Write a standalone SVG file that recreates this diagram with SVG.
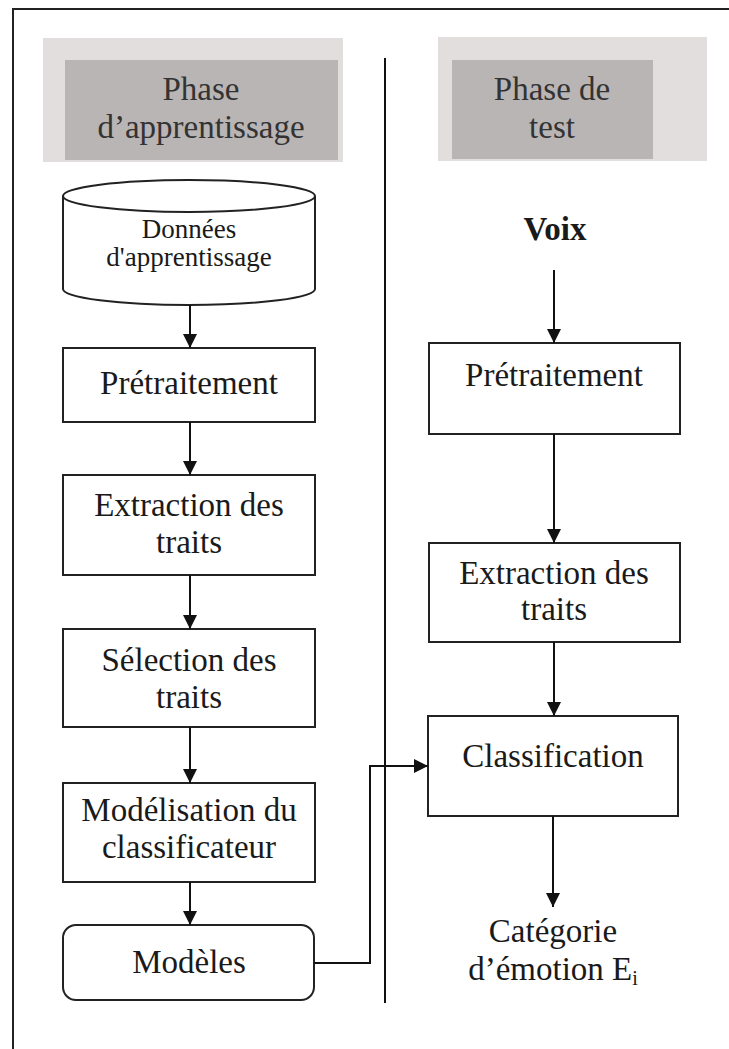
<svg xmlns="http://www.w3.org/2000/svg" width="729" height="1049" viewBox="0 0 729 1049">
  <defs>
    <marker id="arrow" markerUnits="userSpaceOnUse" markerWidth="14" markerHeight="14" refX="14" refY="7" orient="auto">
      <path d="M0,0 L14,7 L0,14 Z" fill="#111"/>
    </marker>
    <style>
      .frame { fill: none; stroke: #222; stroke-width: 2; }
      .box { fill: #fff; stroke: #222; stroke-width: 2; }
      .hdr-outer { fill: #e2dede; }
      .hdr-inner { fill: #b9b5b5; }
      .hdr { font-family: "Liberation Serif", "Times New Roman", serif; font-size: 33px; fill: #333; text-anchor: middle; }
      .lbl { font-family: "Liberation Serif", "Times New Roman", serif; font-size: 33px; fill: #1a1a1a; text-anchor: middle; }
      .small { font-size: 27px; }
      .bold { font-weight: bold; }
      .edge { fill: none; stroke: #111; stroke-width: 2; marker-end: url(#arrow); }
      .plain { fill: none; stroke: #111; stroke-width: 2; }
    </style>
  </defs>

  <rect width="729" height="1049" fill="#fff"/>

  <!-- outer frame (left and top edges) and column divider -->
  <g id="frame">
    <path class="frame" d="M13,1049 L13,9 L729,9"/>
    <line class="plain" x1="385" y1="58" x2="385" y2="1003"/>
  </g>

  <!-- column headers -->
  <g id="header-train">
    <rect class="hdr-outer" x="43" y="38" width="300" height="124"/>
    <rect class="hdr-inner" x="65" y="60" width="273" height="100"/>
    <text class="hdr" x="201" y="100">Phase</text>
    <text class="hdr" x="201" y="138">d’apprentissage</text>
  </g>
  <g id="header-test">
    <rect class="hdr-outer" x="438" y="37" width="269" height="124"/>
    <rect class="hdr-inner" x="452" y="60" width="201" height="99"/>
    <text class="hdr" x="552" y="100">Phase de</text>
    <text class="hdr" x="552" y="138">test</text>
  </g>

  <!-- training column -->
  <g id="donnees">
    <path class="box" d="M63,196 L63,289 A126,16 0 0 0 315,289 L315,196"/>
    <ellipse class="box" cx="189" cy="196" rx="126" ry="16"/>
    <text class="lbl small" x="189" y="238">Données</text>
    <text class="lbl small" x="189" y="266">d'apprentissage</text>
  </g>
  <g id="pretraitement-train">
    <rect class="box" x="63" y="348" width="252" height="74"/>
    <text class="lbl" x="189" y="394">Prétraitement</text>
  </g>
  <g id="extraction-train">
    <rect class="box" x="63" y="475" width="252" height="100"/>
    <text class="lbl" x="189" y="516">Extraction des</text>
    <text class="lbl" x="189" y="553">traits</text>
  </g>
  <g id="selection">
    <rect class="box" x="63" y="629" width="252" height="98"/>
    <text class="lbl" x="189" y="671">Sélection des</text>
    <text class="lbl" x="189" y="708">traits</text>
  </g>
  <g id="modelisation">
    <rect class="box" x="63" y="783" width="252" height="99"/>
    <text class="lbl" x="189" y="821">Modélisation du</text>
    <text class="lbl" x="189" y="858">classificateur</text>
  </g>
  <g id="modeles">
    <rect class="box" x="63" y="925" width="251" height="75" rx="13" ry="13"/>
    <text class="lbl" x="189" y="973">Modèles</text>
  </g>

  <!-- test column -->
  <g id="voix">
    <text class="lbl bold" x="555" y="240">Voix</text>
  </g>
  <g id="pretraitement-test">
    <rect class="box" x="429" y="343" width="251" height="91"/>
    <text class="lbl" x="554" y="386">Prétraitement</text>
  </g>
  <g id="extraction-test">
    <rect class="box" x="429" y="543" width="251" height="99"/>
    <text class="lbl" x="554" y="584">Extraction des</text>
    <text class="lbl" x="554" y="620">traits</text>
  </g>
  <g id="classification">
    <rect class="box" x="428" y="716" width="250" height="100"/>
    <text class="lbl" x="553" y="767">Classification</text>
  </g>
  <g id="categorie">
    <text class="lbl" x="553" y="942">Catégorie</text>
    <text class="lbl" x="553" y="980">d’émotion E<tspan font-size="20" dy="5">i</tspan></text>
  </g>

  <!-- connectors -->
  <g id="connectors">
    <line class="edge" x1="190" y1="305" x2="190" y2="348"/>
    <line class="edge" x1="190" y1="422" x2="190" y2="475"/>
    <line class="edge" x1="190" y1="575" x2="190" y2="629"/>
    <line class="edge" x1="190" y1="727" x2="190" y2="783"/>
    <line class="edge" x1="190" y1="882" x2="190" y2="925"/>
    <line class="edge" x1="554" y1="270" x2="554" y2="343"/>
    <line class="edge" x1="554" y1="434" x2="554" y2="543"/>
    <line class="edge" x1="554" y1="642" x2="554" y2="716"/>
    <line class="edge" x1="553" y1="816" x2="553" y2="907"/>
    <path class="edge" d="M314,963 L370,963 L370,766 L428,766"/>
  </g>
</svg>
